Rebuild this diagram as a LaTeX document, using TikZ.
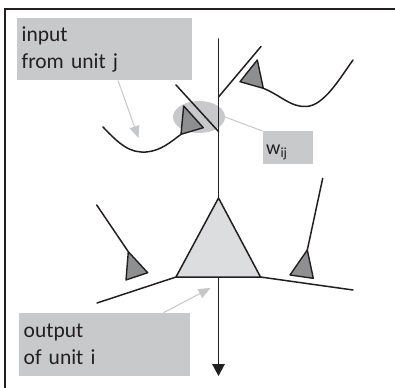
\documentclass[tikz,border=0pt]{standalone}
\usepackage{fontspec}
\setmainfont{Carlito}
\usetikzlibrary{arrows.meta,shapes.geometric}
\definecolor{boxgray}{HTML}{C8C9CB}
\definecolor{somafill}{HTML}{DCDDDF}
\definecolor{synfill}{HTML}{8E8F91}
\definecolor{ink}{HTML}{231F20}
\definecolor{pointer}{HTML}{C6C7C9}
\begin{document}
\begin{tikzpicture}[x=1pt,y=-1pt,
  nerve/.style={draw=ink, line width=1.5pt, line join=round, line cap=round},
  synapse/.style={nerve, fill=synfill, line width=1.4pt},
  label box/.style={fill=boxgray, anchor=north west, inner xsep=4.5pt, inner ysep=0pt,
    align=left, text=ink, font=\fontsize{21.5}{27}\selectfont},
  pointer arrow/.style={draw=pointer, line width=1pt,
    -{Triangle[length=12pt,width=10pt,fill=pointer]}},
  axon arrow/.style={nerve, line cap=butt, -{Triangle[length=12pt,width=12.5pt,fill=ink]}}
]
\useasboundingbox (0,0) rectangle (395,387);
\begin{scope}
\clip (0,0) rectangle (395,387);
% outer frame (open to the right and below)
\draw[ink, line width=2pt] (5,400) -- (5,9.5) -- (400,9.5);
\end{scope}

% named points of the neuron
\coordinate (top) at (218.5,39);
\coordinate (apex) at (218.5,198);
\coordinate (baseL) at (176,277);
\coordinate (baseR) at (260.5,277);
\coordinate (baseM) at (218.5,277);
\coordinate (axonEnd) at (218.5,376);
\coordinate (branchLow) at (218.5,131.5);
\coordinate (branchHigh) at (218.5,97);

% shaded synaptic region
\node[ellipse, fill=boxgray, minimum width=52pt, minimum height=32pt, inner sep=0pt] (syncloud) at (199,117) {};

% text boxes
\node[label box, text width=166pt, minimum height=62pt] (inbox) at (17,18) {input\\from unit j};
\node[label box, text width=162pt, minimum height=63pt] (outbox) at (19,312.7) {output\\of unit i};
\node[fill=boxgray, anchor=north west, minimum width=50.5pt, minimum height=33pt, inner sep=0pt] (wbox) at (262.3,131) {};
\node[anchor=base west, inner sep=0pt, text=ink, font=\fontsize{20}{24}\selectfont] (wlabel) at (266,154.3) {w\textsubscript{\fontsize{14}{16}\selectfont ij}};

% pointer lines
\draw[pointer arrow] (inbox.south west) ++(101,0) coordinate (inptr) (inptr) -- (138.5,138) coordinate (inhead);
\draw[pointer arrow] (outbox.north west) ++(144.5,0) coordinate (outptr) (outptr) -- (210.5,288) coordinate (outhead);
\draw[draw=pointer, line width=1pt] (syncloud.east) -- (wbox.north west);

% main dendrite and soma
\draw[nerve] (top) -- (apex);
\filldraw[nerve, fill=somafill] (apex) -- (baseL) -- (baseR) -- cycle;
\draw[nerve] (baseL) -- (97,303) coordinate (dendL);
\draw[nerve] (baseR) -- (353,290) coordinate (dendR);
\draw[axon arrow] (baseM) -- (axonEnd);

% upper synapse from unit j
\draw[nerve] (176,85) coordinate (spineA) -- (branchLow);
\coordinate (s1a) at (183.7,106);
\coordinate (s1b) at (181,134.3);
\coordinate (s1c) at (203.3,127.7);
\filldraw[synapse] (s1a) -- (s1b) -- (s1c) -- cycle;
\draw[nerve] (103,127) coordinate (inStart) .. controls (120,145) and (130,153) .. (146,152)
  .. controls (161,151) and (172,141) .. (s1b);

% upper right branch and synapse
\draw[nerve] (branchHigh) -- (261,46.5) coordinate (branchTip);
\coordinate (s2a) at (257.3,60);
\coordinate (s2b) at (240,81.7);
\coordinate (s2c) at (263.3,88.3);
\filldraw[synapse] (s2a) -- (s2b) -- (s2c) -- cycle;
\draw[nerve] (s2c) .. controls (282,96) and (290,107) .. (306,106.5)
  .. controls (324,106) and (340,78) .. (353,60) coordinate (s2end);

% left synapse
\coordinate (s3a) at (128.3,251.7);
\coordinate (s3b) at (126,280);
\coordinate (s3c) at (147.7,272.7);
\draw[nerve] (96.7,205) coordinate (s3start) -- (s3a);
\filldraw[synapse] (s3a) -- (s3b) -- (s3c) -- cycle;

% right synapse
\coordinate (s4a) at (307.3,250);
\coordinate (s4b) at (290,275);
\coordinate (s4c) at (313.3,278.3);
\draw[nerve] (322.7,178.3) coordinate (s4start) -- (s4a);
\filldraw[synapse] (s4a) -- (s4b) -- (s4c) -- cycle;
\end{tikzpicture}
\end{document}
